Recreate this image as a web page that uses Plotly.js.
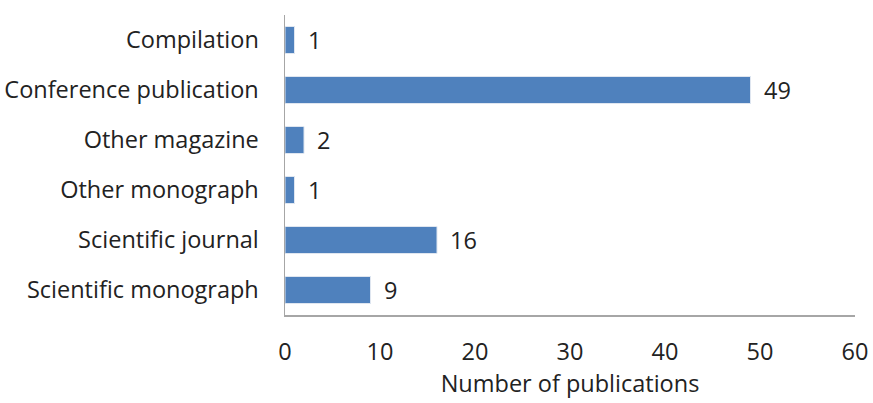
<!DOCTYPE html>
<html>
<head>
<meta charset="utf-8">
<script src="https://cdn.plot.ly/plotly-3.0.1.min.js"></script>
<style>html,body{margin:0;padding:0;background:#fff;}#chart{width:873px;height:403px;}</style>
</head>
<body>
<div id="chart"></div>
<script>
const categories = ["Compilation", "Conference publication", "Other magazine", "Other monograph", "Scientific journal", "Scientific monograph"];
const counts = [1, 49, 2, 1, 16, 9];
const xTicks = [0, 10, 20, 30, 40, 50, 60];

const FONT = "Open Sans, sans-serif";
const FS = 23.5;

const trace = {
  type: "bar",
  orientation: "h",
  y: categories,
  x: counts,
  marker: {color: "#4F81BD", line: {color: "#dfe6f0", width: 1}},
  width: 0.54,
  hoverinfo: "skip"
};

const annotations = categories.map((c, i) => ({
  x: counts[i], y: c, xref: "x", yref: "y",
  text: String(counts[i]), showarrow: false,
  xanchor: "left", xshift: 11,
  font: {family: FONT, size: FS, color: "#222"}
}));

const layout = {
  width: 873, height: 403,
  margin: {l: 285, r: 18, t: 15, b: 88},
  paper_bgcolor: "#fff", plot_bgcolor: "#fff",
  showlegend: false,
  font: {family: FONT, size: FS, color: "#222"},
  xaxis: {
    range: [0, 60], tickvals: xTicks, ticktext: xTicks.map(String),
    showgrid: false, zeroline: false,
    showline: true, linecolor: "#a6a6a6", linewidth: 1.5,
    ticks: "", ticklabelstandoff: 15,
    tickfont: {family: FONT, size: FS, color: "#222"},
    title: {text: "Number of publications", font: {family: FONT, size: FS, color: "#222"}, standoff: 9}
  },
  yaxis: {
    autorange: "reversed", categoryorder: "array", categoryarray: categories,
    showgrid: false, zeroline: false,
    showline: true, linecolor: "#a6a6a6", linewidth: 1.5,
    ticks: "", ticklabelstandoff: 20,
    tickfont: {family: FONT, size: FS, color: "#222"}
  },
  annotations: annotations
};

Plotly.newPlot("chart", [trace], layout, {staticPlot: true, displayModeBar: false});
</script>
</body>
</html>
